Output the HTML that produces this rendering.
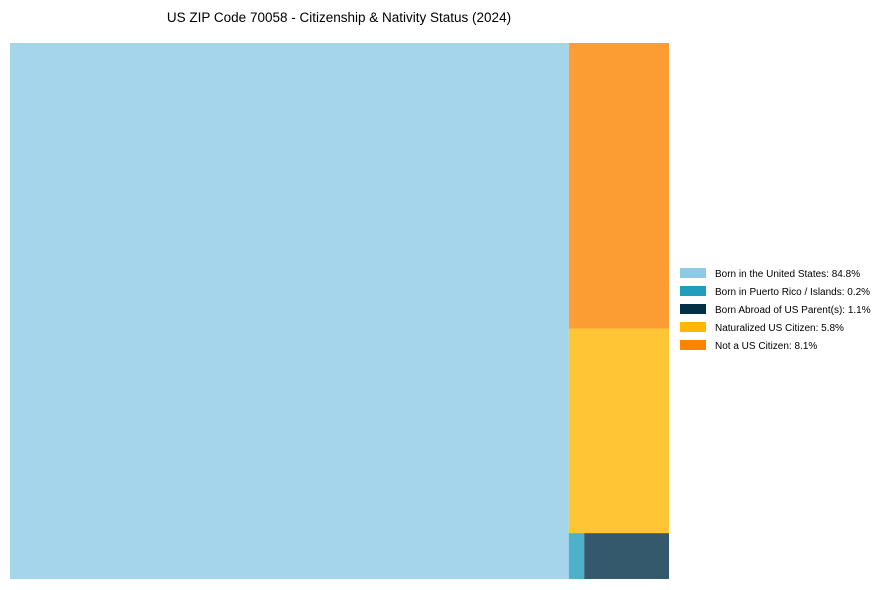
<!DOCTYPE html>
<html><head><meta charset="utf-8"><style>
body{margin:0;background:#fff;font-family:"Liberation Sans",Arial,sans-serif}
svg{display:block}
</style></head><body>
<svg id="c" width="889" height="590">
<text x="339" y="22" text-anchor="middle" font-size="13.5" fill="#000">US ZIP Code 70058 - Citizenship &amp; Nativity Status (2024)</text>
<g id="tiles"></g><g id="legend"></g>
</svg>
<script>
const labels=["Born in the United States","Born in Puerto Rico / Islands","Born Abroad of US Parent(s)","Naturalized US Citizen","Not a US Citizen"];
const values=[84.8,0.2,1.1,5.8,8.1];
const colors=["#8ecae6","#219ebc","#023047","#ffb703","#fb8500"];
const ns="http://www.w3.org/2000/svg";
const X0=10,Y0=43,W=659,H=536;
const total=values.reduce((a,b)=>a+b,0);
const tiles=document.getElementById('tiles');
function rect(i,x,y,w,h){
 const r=document.createElementNS(ns,'rect');
 r.setAttribute('x',x);r.setAttribute('y',y);r.setAttribute('width',w);r.setAttribute('height',h);
 r.setAttribute('fill',colors[i]);r.setAttribute('fill-opacity',0.8);
 
 
 tiles.appendChild(r);
}
const w0=W*values[0]/total;
rect(0,X0,Y0,w0,H);
const cx=X0+w0,cw=W-w0,rest=total-values[0];
let y=Y0;
[4,3].forEach(i=>{const h=H*values[i]/rest;rect(i,cx,y,cw,h);y+=h;});
const bh=Y0+H-y,bsum=values[1]+values[2];
let x=cx;
[1,2].forEach(i=>{const w=cw*values[i]/bsum;rect(i,x,y,w,bh);x+=w;});
const lg=document.getElementById('legend');
labels.forEach((l,i)=>{
 const g=document.createElementNS(ns,'g');
 
 
 const s=document.createElementNS(ns,'rect');
 s.setAttribute('x',680);s.setAttribute('y',268+i*18);s.setAttribute('width',26);s.setAttribute('height',10);s.setAttribute('fill',colors[i]);
 const t=document.createElementNS(ns,'text');
 t.setAttribute('x',715);t.setAttribute('y',277+i*18);t.setAttribute('font-size','10');
 t.textContent=l+': '+values[i].toFixed(1)+'%';
 g.appendChild(s);g.appendChild(t);lg.appendChild(g);
});
</script>
</body></html>
